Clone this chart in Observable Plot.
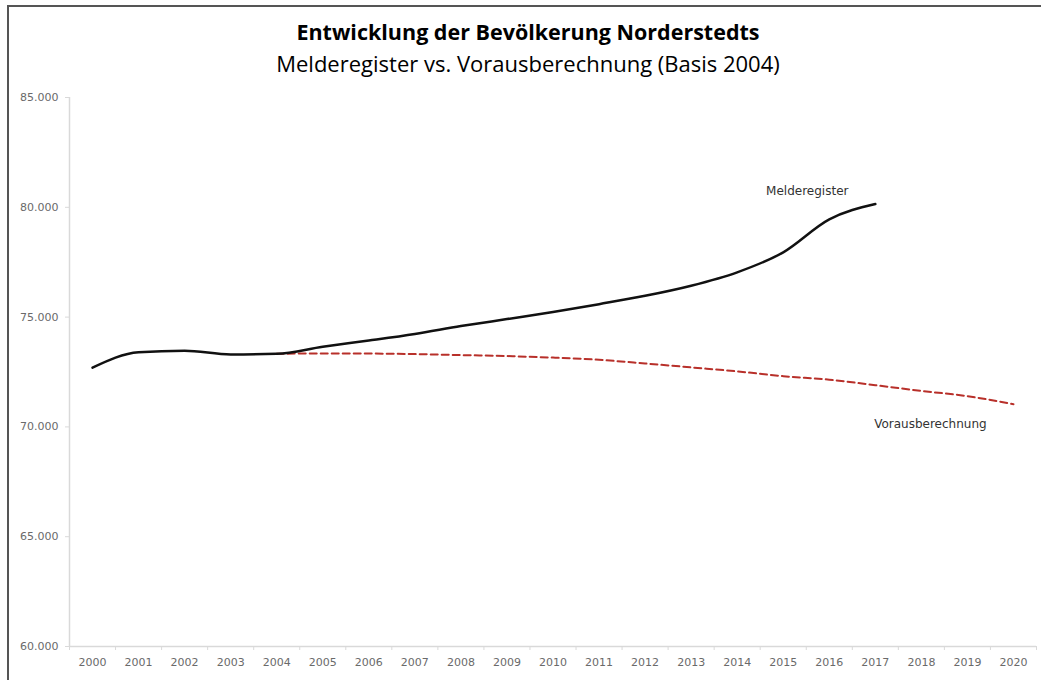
<!DOCTYPE html>
<html>
<head>
<meta charset="utf-8">
<script src="https://cdn.jsdelivr.net/npm/d3@7"></script>
<script src="https://cdn.jsdelivr.net/npm/@observablehq/plot@0.6"></script>
<style>
  body { margin: 0; background: #fff; }
  #wrap { position: relative; width: 1041px; height: 680px; overflow: hidden; background: #fff; }
  .bl { position: absolute; left: 7px; top: 5px; width: 2px; height: 675px; background: #555; }
  .bt { position: absolute; left: 7px; top: 5px; right: 0; height: 2px; background: #555; }
  .tt { position: absolute; left: 0; width: 1056px; text-align: center; color: #000; font-family: "Open Sans", sans-serif; white-space: nowrap; }
  #t1 { top: 17px; font-size: 21.5px; font-weight: 700; }
  #t2 { top: 48px; font-size: 22px; font-weight: 400; }
  #chart { position: absolute; left: 0; top: 90px; }
</style>
</head>
<body>
<div id="wrap">
  <div class="bl"></div>
  <div class="bt"></div>
  <div id="t1" class="tt">Entwicklung der Bevölkerung Norderstedts</div>
  <div id="t2" class="tt">Melderegister vs. Vorausberechnung (Basis 2004)</div>
  <div id="chart"></div>
</div>
<script>
const years = [2000, 2001, 2002, 2003, 2004, 2005, 2006, 2007, 2008, 2009, 2010,
               2011, 2012, 2013, 2014, 2015, 2016, 2017, 2018, 2019, 2020];
const melderegisterYears = [2000, 2001, 2002, 2003, 2004, 2005, 2006, 2007, 2008,
                            2009, 2010, 2011, 2012, 2013, 2014, 2015, 2016, 2017];
const melderegister = [72700, 73400, 73470, 73300, 73330, 73650, 73930, 74230, 74590,
                       74910, 75230, 75590, 75970, 76430, 77040, 77950, 79450, 80150];
const vorausYears = [2004, 2005, 2006, 2007, 2008, 2009, 2010, 2011, 2012,
                     2013, 2014, 2015, 2016, 2017, 2018, 2019, 2020];
const vorausberechnung = [73330, 73345, 73340, 73315, 73270, 73225, 73155, 73055, 72890,
                          72710, 72530, 72310, 72150, 71900, 71640, 71400, 71030];
const yTicks = [60000, 65000, 70000, 75000, 80000, 85000];
const seriesLabels = ["Melderegister", "Vorausberechnung"];

const mData = melderegisterYears.map((y, i) => ({year: y, value: melderegister[i]}));
const vData = vorausYears.map((y, i) => ({year: y, value: vorausberechnung[i]}));
const xDomain = [years[0] - 0.5, years[years.length - 1] + 0.5];
const yDomain = [yTicks[0], yTicks[yTicks.length - 1]];
const boundaries = years.map(y => y - 0.5).concat([years[years.length - 1] + 0.5]);
const fmt = v => v.toLocaleString("de-DE");

const font = "DejaVu Sans, sans-serif";
const chart = Plot.plot({
  width: 1041,
  height: 590,
  marginLeft: 69,
  marginRight: 5,
  marginTop: 7,
  marginBottom: 34,
  style: {fontFamily: font, fontSize: "11px", background: "transparent"},
  x: {type: "linear", domain: xDomain, label: null},
  y: {domain: yDomain, label: null},
  marks: [
    Plot.ruleX([xDomain[0]], {stroke: "#d9d9d9", strokeWidth: 1.5}),
    Plot.ruleY([yDomain[0]], {stroke: "#d9d9d9", strokeWidth: 1.5}),
    Plot.axisY({ticks: yTicks, tickSize: 4, tickPadding: 7, tickFormat: fmt, label: null,
                stroke: "#d9d9d9", fill: "#6a6a6a", fontSize: 11}),
    Plot.axisX({ticks: boundaries, tickSize: 4, tickFormat: () => "", label: null, stroke: "#d9d9d9"}),
    Plot.axisX({ticks: years, tickSize: 0, tickPadding: 12, tickFormat: d => String(d), label: null,
                fill: "#6a6a6a", fontSize: 11}),
    Plot.line(vData, {x: "year", y: "value", stroke: "#b8302a", strokeWidth: 2,
                      strokeDasharray: "7,4", curve: "monotone-x"}),
    Plot.line(mData, {x: "year", y: "value", stroke: "#111", strokeWidth: 2.5,
                      curve: "monotone-x"}),
    Plot.text([mData[16]], {x: "year", y: "value", text: () => seriesLabels[0],
                            dx: -22, dy: -28, fill: "#333", fontSize: 12}),
    Plot.text([vData[14]], {x: "year", y: "value", text: () => seriesLabels[1],
                            dx: 9, dy: 33, fill: "#333", fontSize: 12})
  ]
});
document.getElementById("chart").appendChild(chart);
</script>
</body>
</html>
